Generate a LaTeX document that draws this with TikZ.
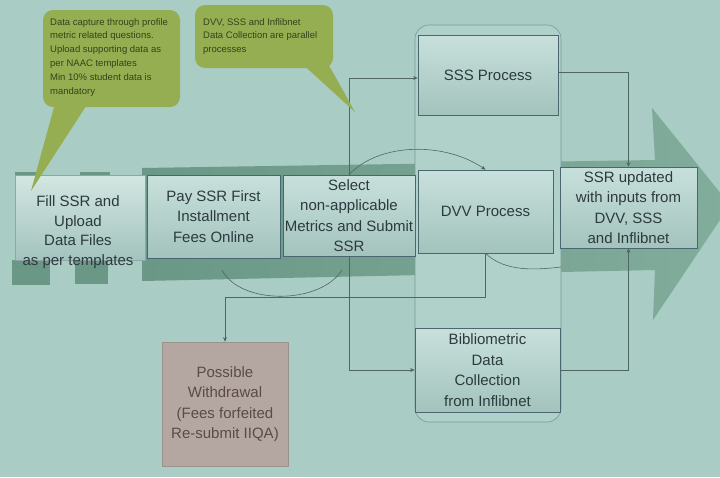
\documentclass[tikz,border=0pt]{standalone}
\usepackage{fontspec}
\setmainfont{Liberation Sans}
\usetikzlibrary{arrows.meta}
\definecolor{bg}{HTML}{A9CCC4}
\definecolor{band}{HTML}{6A9786}
\definecolor{head}{HTML}{82AC9C}
\definecolor{boxtop}{HTML}{C8E0DB}
\definecolor{boxbot}{HTML}{A3C3BD}
\definecolor{boxline}{HTML}{4A6670}
\definecolor{txt}{HTML}{2C3A3F}
\definecolor{callout}{HTML}{96AE52}
\definecolor{calltxt}{HTML}{34431A}
\definecolor{wdfill}{HTML}{B4A7A1}
\definecolor{wdline}{HTML}{9C928D}
\definecolor{wdtxt}{HTML}{5C4A45}
\definecolor{conn}{HTML}{4F6666}
\definecolor{lanefill}{HTML}{B0D1CA}
\definecolor{laneline}{HTML}{7C9996}
\begin{document}
\begin{tikzpicture}[x=1pt,y=-1pt,
  box/.style={draw=boxline,line width=0.7pt,top color=boxtop,bottom color=boxbot,inner sep=0pt,align=center,text=txt,font=\fontsize{15}{20.5}\selectfont},
  btext/.style={align=center,text=txt,inner sep=0pt,font=\fontsize{15}{19.5}\selectfont},
  conn/.style={draw=conn,line width=0.6pt,-{Stealth[length=4.5pt,width=4pt]}},
  plain/.style={draw=conn,line width=0.6pt},
  ctext/.style={align=left,anchor=north west,text=calltxt,inner sep=0pt,font=\fontsize{9.5}{13.8}\selectfont}]

\useasboundingbox (0,0) rectangle (720,477);
\fill[bg] (0,0) rectangle (720,477);

% big arrow
\shade[left color=band,right color=head] (142,168) -- (655,160) -- (652,108) -- (730,205) -- (653,320) -- (655,270) -- (142,281) -- cycle;

% curve under the band
\coordinate (cA) at (222,270);
\coordinate (cB) at (342,270);
\draw[plain] (cA) .. controls (240,305) and (320,305) .. (cB);

% tabs around the first box
\fill[band] (15,172) rectangle (38,178);
\fill[band] (80,172) rectangle (110,178);
\fill[band] (12,260) rectangle (50,285);
\fill[band] (75,260) rectangle (108,284);

% swim lane
\draw[laneline,fill=lanefill,rounded corners=14pt,line width=0.6pt] (415,25) rectangle (561,422);

% boxes
\node[box,minimum width=130pt,minimum height=85pt,draw=boxline!60,top color=boxtop!80!white] (fill) at (80,217.5) {};
\node[btext] (filltxt) at (78,232) {Fill SSR and\\Upload\\Data Files\\as per templates};
\node[box,minimum width=133pt,minimum height=83pt] (pay) at (213.5,216.5) {Pay SSR First\\Installment\\Fees Online};
\node[box,minimum width=132pt,minimum height=81pt] (select) at (349,215.5) {Select\\non-applicable\\Metrics and Submit\\SSR};
\node[box,minimum width=135pt,minimum height=83pt] (dvv) at (485.5,211.5) {DVV Process};
\node[box,minimum width=137pt,minimum height=81pt] (ssr) at (628.5,207.5) {SSR updated\\with inputs from\\DVV, SSS\\and Inflibnet};
\node[box,minimum width=140pt,minimum height=80pt] (sss) at (488,75) {SSS Process};
\node[box,minimum width=145pt,minimum height=84pt] (bib) at (487.5,370) {Bibliometric\\Data\\Collection\\from Inflibnet};
\node[box,minimum width=126pt,minimum height=124pt,draw=wdline,top color=wdfill,bottom color=wdfill,text=wdtxt] (wd) at (225,404) {Possible\\Withdrawal\\(Fees forfeited\\Re-submit IIQA)};

% connectors
\draw[conn] (select.north) |- ([yshift=-3pt]sss.west);
\draw[conn] (select.south) |- (bib.west);
\draw[conn] ([yshift=3pt]sss.east) -| (ssr.north);
\draw[conn] (bib.east) -| (ssr.south);
\draw[conn] (dvv.south) -- ++(0,44) -| (wd.north);
\draw[conn] (select.north) .. controls (380,142) and (445,142) .. (dvv.north);
\coordinate (cC) at (561,267);
\draw[plain] (dvv.south) .. controls (505,272) and (535,270) .. (cC);

% callouts
\fill[callout,rounded corners=10pt] (43,10) rectangle (180,107);
\fill[callout] (56,100) -- (90,100) -- (31,191) -- cycle;
\node[ctext] (c1) at (50,18) {Data capture through profile\\metric related questions.\\Upload supporting data as\\per NAAC templates\\Min 10\% student data is\\mandatory};

\fill[callout,rounded corners=10pt] (195,5) rectangle (333,68);
\fill[callout] (298,60) -- (326,60) -- (355,112) -- cycle;
\node[ctext] (c2) at (203,18) {DVV, SSS and Inflibnet\\Data Collection are parallel\\processes};
\end{tikzpicture}
\end{document}
